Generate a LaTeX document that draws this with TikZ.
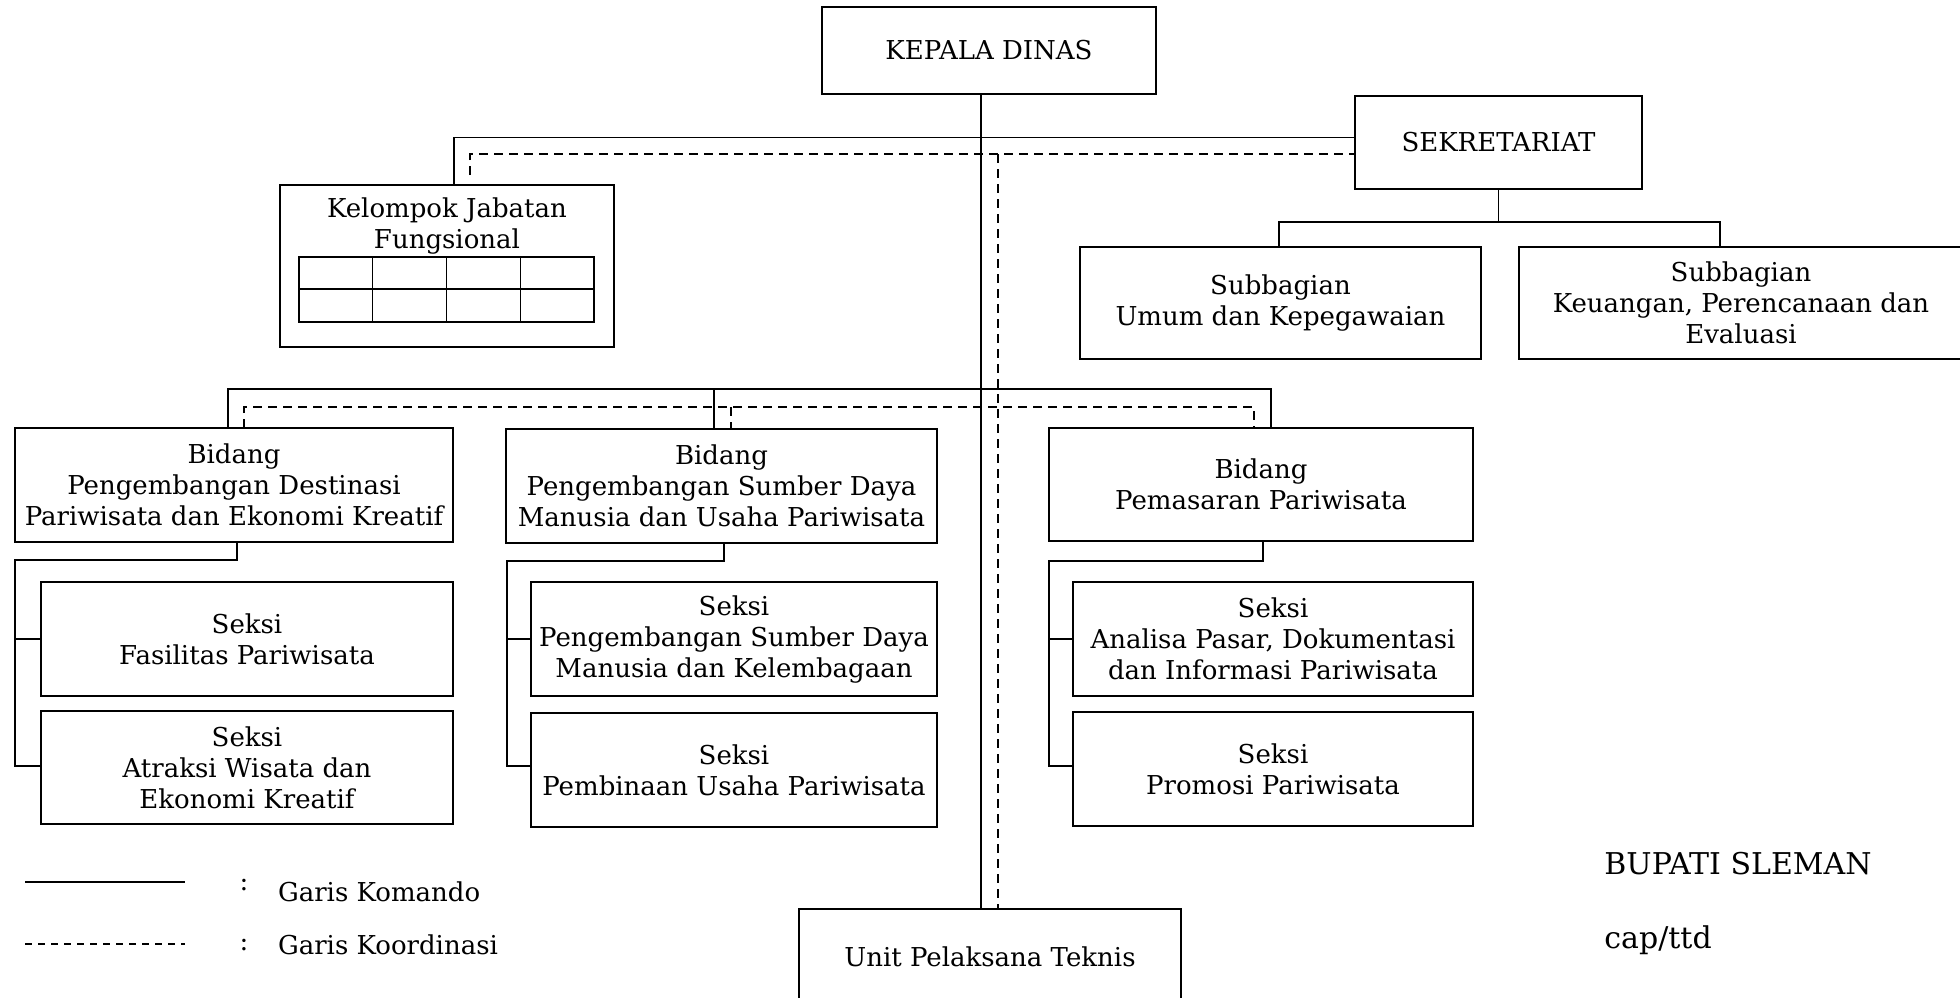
\documentclass[tikz,border=0pt]{standalone}
\usepackage{fontspec}
\setmainfont{DejaVu Serif}
\newcommand{\bodyfnt}{\fontsize{13}{15.5}\selectfont}
\newcommand{\bigfnt}{\fontsize{15}{17}\selectfont}
\begin{document}
\begin{tikzpicture}[x=0.5pt,y=-0.5pt,
  box/.style={draw, line width=1.1pt, inner sep=0pt, outer sep=0pt, align=center, font=\bodyfnt},
  txt/.style={inner sep=0pt, outer sep=0pt, align=center, font=\bodyfnt},
  cmd/.style={line width=0.9pt},
  crd/.style={line width=0.9pt, dash pattern=on 4.5pt off 3pt},
  tbl/.style={line width=0.6pt}]
\useasboundingbox (0,0) rectangle (1960,997);

% nodes
\node[box, minimum width=167pt, minimum height=43.5pt] (kepala) at (989,50.5) {KEPALA DINAS};
\node[box, minimum width=143.5pt, minimum height=46.5pt] (sekr) at (1498.5,142.5) {SEKRETARIAT};
\node[box, minimum width=167pt, minimum height=81pt] (kjf) at (447,266) {};
\node[txt] (kjft) at (447,226) {Kelompok Jabatan\\Fungsional};
\node[box, minimum width=200.5pt, minimum height=56pt] (sub1) at (1280.5,303) {Subbagian\\Umum dan Kepegawaian};
\node[box, minimum width=222pt, minimum height=56pt] (sub2) at (1741,303) {Subbagian\\Keuangan, Perencanaan dan\\Evaluasi};
\node[box, minimum width=219pt, minimum height=57pt] (b1) at (234,485) {Bidang\\Pengembangan Destinasi\\Pariwisata dan Ekonomi Kreatif};
\node[box, minimum width=215.5pt, minimum height=57pt] (b2) at (721.5,486) {Bidang\\Pengembangan Sumber Daya\\Manusia dan Usaha Pariwisata};
\node[box, minimum width=212pt, minimum height=56.5pt] (b3) at (1261,484.5) {Bidang\\Pemasaran Pariwisata};
\node[box, minimum width=206pt, minimum height=57pt] (s1) at (247,639) {Seksi\\Fasilitas Pariwisata};
\node[box, minimum width=206pt, minimum height=56.5pt] (s2) at (247,767.5) {Seksi\\Atraksi Wisata dan\\Ekonomi Kreatif};
\node[box, minimum width=203pt, minimum height=57pt] (s3) at (734,639) {Seksi\\Pengembangan Sumber Daya\\Manusia dan Kelembagaan};
\node[box, minimum width=203pt, minimum height=57pt] (s4) at (734,770) {Seksi\\Pembinaan Usaha Pariwisata};
\node[box, minimum width=200pt, minimum height=57pt] (s5) at (1273,639) {Seksi\\Analisa Pasar, Dokumentasi\\dan Informasi Pariwisata};
\node[box, minimum width=200pt, minimum height=57pt] (s6) at (1273,769) {Seksi\\Promosi Pariwisata};
\node[box, minimum width=191pt, minimum height=48pt] (upt) at (990,957) {Unit Pelaksana Teknis};

% table inside Kelompok Jabatan Fungsional
\draw[tbl] (299,257) rectangle (594,322);
\draw[tbl] (299,289) -- (594,289);
\foreach \cx in {372.75,446.5,520.25} \draw[tbl] (\cx,257) -- (\cx,322);

% trunk and top connectors
\coordinate (trunk) at (981,137.5);
\draw[cmd] (kepala.south -| trunk) -- (upt.north -| trunk);
\coordinate (kjfx) at (454,137.5);
\draw[cmd] (kjf.north -| kjfx) -- (kjfx) -- (sekr.west |- kjfx);
\coordinate (kd) at (470,154);
\coordinate (kdend) at (470,175);
\draw[crd] (kdend) -- (kd) -- (sekr.west |- kd);
\coordinate (dtr) at (998,154);
\draw[crd] (dtr) -- (upt.north -| dtr);

% sekretariat children
\coordinate (sl) at (1279,222);
\coordinate (sr) at (1720,222);
\draw[cmd] (sekr.south) -- (sekr.south |- sl);
\draw[cmd] (sub1.north -| sl) -- (sl) -- (sr) -- (sub2.north -| sr);

% bidang level
\coordinate (bl) at (228,389);
\coordinate (bm) at (714,389);
\coordinate (br) at (1271,389);
\draw[cmd] (b1.north -| bl) -- (bl) -- (br) -- (b3.north -| br);
\draw[cmd] (bm) -- (b2.north -| bm);
\coordinate (dl) at (244,407);
\coordinate (dm) at (731,407);
\coordinate (dr) at (1254,407);
\draw[crd] (b1.north -| dl) -- (dl) -- (dr) -- (b3.north -| dr);
\draw[crd] (dm) -- (b2.north -| dm);

% bidang 1 children
\coordinate (b1a) at (237,560);
\coordinate (b1l) at (15,560);
\coordinate (b1e) at (15,766);
\draw[cmd] (b1.south -| b1a) -- (b1a) -- (b1l) -- (b1e) -- (s2.west |- b1e);
\draw[cmd] (b1l |- s1.west) -- (s1.west);
% bidang 2 children
\coordinate (b2a) at (724,561);
\coordinate (b2l) at (507,561);
\coordinate (b2e) at (507,766);
\draw[cmd] (b2.south -| b2a) -- (b2a) -- (b2l) -- (b2e) -- (s4.west |- b2e);
\draw[cmd] (b2l |- s3.west) -- (s3.west);
% bidang 3 children
\coordinate (b3a) at (1263,561);
\coordinate (b3l) at (1049,561);
\coordinate (b3e) at (1049,766);
\draw[cmd] (b3.south -| b3a) -- (b3a) -- (b3l) -- (b3e) -- (s6.west |- b3e);
\draw[cmd] (b3l |- s5.west) -- (s5.west);

% legend
\coordinate (l1a) at (25,882);
\coordinate (l1b) at (185,882);
\draw[cmd] (l1a) -- (l1b);
\coordinate (l2a) at (25,944);
\coordinate (l2b) at (185,944);
\draw[line width=0.9pt, dash pattern=on 3.5pt off 3pt] (l2a) -- (l2b);
\node[txt] (c1) at (244,885) {:};
\node[txt, anchor=west] (g1) at (278,892) {Garis Komando};
\node[txt] (c2) at (244,945) {:};
\node[txt, anchor=west] (g2) at (278,945) {Garis Koordinasi};

% signature
\node[inner sep=0pt, anchor=west, font=\bigfnt] (bup) at (1604,864) {BUPATI SLEMAN};
\node[inner sep=0pt, anchor=west, font=\bigfnt] (cap) at (1604,940) {cap/ttd};
\end{tikzpicture}
\end{document}
